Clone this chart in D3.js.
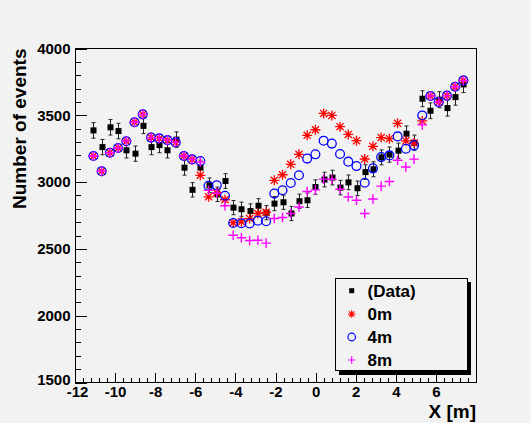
<!DOCTYPE html>
<html><head><meta charset="utf-8">
<script src="https://cdn.jsdelivr.net/npm/d3@7/dist/d3.min.js"></script>
<style>
body{margin:0;background:#f2f2f2;}
svg{display:block;}
text{font-family:"Liberation Sans",Arial,Helvetica,sans-serif;font-weight:bold;fill:#000;}
</style>
</head><body>
<svg id="chart" width="531" height="423"></svg>
<script>
// ---- data ----
const xPositions = [-11.08,-10.67,-10.26,-9.85,-9.44,-9.03,-8.62,-8.21,-7.80,-7.39,
  -6.98,-6.57,-6.16,-5.75,-5.34,-4.93,-4.52,-4.11,-3.70,-3.29,
  -2.88,-2.47,-2.06,-1.65,-1.24,-0.83,-0.42,-0.01,0.40,0.81,
  1.22,1.63,2.04,2.45,2.86,3.27,3.68,4.09,4.50,4.91,
  5.32,5.73,6.14,6.55,6.96,7.37];
const dataValues = [3387,3262,3410,3382,3238,3213,3421,3262,3277,3238,
  3318,3108,2942,3108,2976,2909,3008,2809,2797,2784,
  2823,2771,2839,2849,2765,2857,2864,2963,3019,3034,
  2959,2998,2954,3075,3096,3185,3206,3235,3362,3295,
  3624,3534,3617,3554,3636,3731];
const dataErrors = [58,57,58,58,57,57,58,57,57,57,
  58,56,54,56,55,54,55,53,53,53,
  53,53,53,53,53,53,54,54,55,55,
  54,55,54,55,56,56,57,57,58,57,
  60,59,60,60,60,61];
const model0m = [3195,3081,3220,3255,3306,3448,3507,3333,3327,3314,
  3297,3195,3170,3051,2890,2920,2868,2696,2703,2727,
  2765,2774,3013,3055,3133,3208,3350,3392,3514,3499,
  3415,3357,3310,3173,3268,3333,3325,3440,3309,3292,
  3458,3645,3599,3647,3714,3761];
const model4m = [3195,3081,3220,3255,3306,3448,3507,3333,3327,3314,
  3297,3195,3170,3158,2972,2976,2898,2694,2692,2690,
  2711,2707,2914,2939,2993,3051,3176,3208,3310,3288,
  3210,3153,3120,2995,3103,3187,3200,3342,3250,3275,
  3499,3645,3599,3647,3714,3761];
const model8m = [3195,3081,3220,3255,3306,3448,3507,3333,3327,3314,
  3297,3195,3170,3150,2938,2916,2823,2602,2584,2563,
  2565,2543,2727,2735,2765,2814,2930,2942,3022,3021,
  2946,2889,2864,2765,2874,2970,3004,3163,3113,3172,
  3428,3645,3599,3647,3714,3761];
const xTickValues = [-12,-10,-8,-6,-4,-2,0,2,4,6];
const yTickValues = [1500,2000,2500,3000,3500,4000];
const legendLabels = ["(Data)","0m","4m","8m"];
const xTitle = "X [m]";
const yTitle = "Number of events";

// ---- layout ----
const svg = d3.select("#chart");
const L = 75, R = 476, T = 48.5, B = 382.5;
const x = d3.scaleLinear().domain([-12, 8]).range([L, R]);
const y = d3.scaleLinear().domain([1500, 4000]).range([B, T]);

svg.append("rect").attr("width",531).attr("height",423).attr("fill","#f2f2f2");

// minor ticks
const xMinor = d3.range(-12, 8.001, 0.4).filter(v => Math.abs(v/2 - Math.round(v/2)) > 1e-6);
const yMinor = d3.range(1500, 4001, 100).filter(v => v % 500 !== 0);

const gx = svg.append("g").attr("transform", `translate(0,${B})`)
  .call(d3.axisBottom(x).tickValues(xTickValues).tickFormat(d => String(d))
    .tickSizeInner(-9.5).tickSizeOuter(0).tickPadding(4));
gx.select(".domain").remove();
gx.selectAll("text").style("font-size","15px");
gx.selectAll(".tick").filter(d => d === -12).select("text").attr("dx","2");
const gxm = svg.append("g").attr("transform", `translate(0,${B})`)
  .call(d3.axisBottom(x).tickValues(xMinor).tickFormat("").tickSizeInner(-4.8).tickSizeOuter(0));
gxm.select(".domain").remove();

const gy = svg.append("g").attr("transform", `translate(${L},0)`)
  .call(d3.axisLeft(y).tickValues(yTickValues).tickFormat(d => String(d))
    .tickSizeInner(-12).tickSizeOuter(0).tickPadding(4.5));
gy.select(".domain").remove();
gy.selectAll("text").style("font-size","15px");
gy.selectAll(".tick").filter(d => d === 1500).select("text").attr("dy","0.1em");
const gym = svg.append("g").attr("transform", `translate(${L},0)`)
  .call(d3.axisLeft(y).tickValues(yMinor).tickFormat("").tickSizeInner(-6).tickSizeOuter(0));
gym.select(".domain").remove();
svg.selectAll(".tick line").attr("stroke","#000").attr("shape-rendering","crispEdges");

// frame
svg.append("rect").attr("x",L).attr("y",T).attr("width",R-L).attr("height",B-T)
  .attr("fill","none").attr("stroke","#000").attr("stroke-width",1).attr("shape-rendering","crispEdges");

// titles
svg.append("text").attr("x",R).attr("y",418).attr("text-anchor","end")
  .style("font-size","19px").text(xTitle);
svg.append("text").attr("transform",`translate(26,${T}) rotate(-90)`).attr("text-anchor","end")
  .style("font-size","19px").text(yTitle);

// marker helpers
const starPath = s => { const d = s*0.707; return `M${-s},0H${s}M0,${-s}V${s}M${-d},${-d}L${d},${d}M${-d},${d}L${d},${-d}`; };
const plusPath = s => `M${-s},0H${s}M0,${-s}V${s}`;

// data: error bars + squares
const pts = xPositions.map((xv,i)=>({x:xv, v:dataValues[i], e:dataErrors[i]}));
const eb = svg.append("g").attr("stroke","#222").attr("stroke-width",1);
pts.forEach(p => {
  const cx = Math.round(x(p.x)) + 0.5;
  const y1 = y(p.v + p.e), y2 = y(p.v - p.e);
  eb.append("line").attr("x1",cx).attr("x2",cx).attr("y1",y1).attr("y2",y2);
  eb.append("line").attr("x1",cx-2).attr("x2",cx+2).attr("y1",y1).attr("y2",y1);
  eb.append("line").attr("x1",cx-2).attr("x2",cx+2).attr("y1",y2).attr("y2",y2);
});
svg.append("g").selectAll("rect").data(pts).join("rect")
  .attr("x", d => Math.round(x(d.x)) + 0.5 - 3).attr("y", d => y(d.v) - 3)
  .attr("width",6).attr("height",6).attr("fill","#000");

// models
svg.append("g").selectAll("path").data(model0m).join("path")
  .attr("transform",(d,i)=>`translate(${x(xPositions[i])},${y(d)})`)
  .attr("d", starPath(5)).attr("stroke","#ff0000").attr("stroke-width",1.3).attr("fill","none");
svg.append("g").selectAll("circle").data(model4m).join("circle")
  .attr("cx",(d,i)=>x(xPositions[i])).attr("cy",d=>y(d)).attr("r",4.4)
  .attr("stroke","#0000ff").attr("stroke-width",1.3).attr("fill","none");
svg.append("g").selectAll("path").data(model8m).join("path")
  .attr("transform",(d,i)=>`translate(${x(xPositions[i])},${y(d)})`)
  .attr("d", plusPath(4.8)).attr("stroke","#ff00ff").attr("stroke-width",1.4).attr("fill","none");

// legend
const lg = svg.append("g");
lg.append("rect").attr("x",339).attr("y",282).attr("width",132).attr("height",93).attr("fill","#000");
lg.append("rect").attr("x",335.5).attr("y",278.5).attr("width",132).attr("height",92)
  .attr("fill","#f2f2f2").attr("stroke","#000").attr("stroke-width",1);
const rowY = [290.7, 314, 337, 360];
const mx = 351.7;
lg.append("rect").attr("x",mx-2.5).attr("y",rowY[0]-2.5).attr("width",5).attr("height",5).attr("fill","#000");
lg.append("path").attr("transform",`translate(${mx},${rowY[1]})`).attr("d",starPath(3.8))
  .attr("stroke","#ff0000").attr("stroke-width",1.1).attr("fill","none");
lg.append("circle").attr("cx",mx).attr("cy",rowY[2]).attr("r",3.8)
  .attr("stroke","#0000ff").attr("stroke-width",1.2).attr("fill","none");
lg.append("path").attr("transform",`translate(${mx},${rowY[3]})`).attr("d",plusPath(3.8))
  .attr("stroke","#ff00ff").attr("stroke-width",1.2).attr("fill","none");
lg.selectAll("text.lab").data(legendLabels).join("text").attr("class","lab")
  .attr("x",367.5).attr("y",(d,i)=>rowY[i]+6).style("font-size","17px").text(d=>d);
</script>
</body></html>
